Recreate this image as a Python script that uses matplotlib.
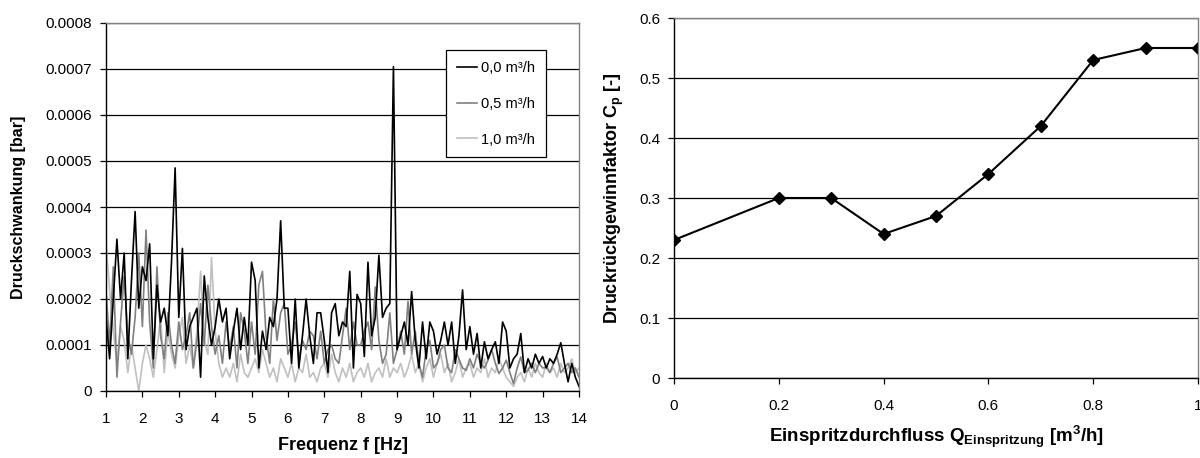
import numpy as np
import matplotlib
matplotlib.use('Agg')
import matplotlib.pyplot as plt

plt.rcParams['font.family'] = ['Liberation Sans', 'DejaVu Sans']
plt.rcParams['mathtext.fontset'] = 'custom'
plt.rcParams['mathtext.rm'] = 'Liberation Sans'
plt.rcParams['mathtext.bf'] = 'Liberation Sans:bold'

# left panel: pressure fluctuation spectrum, 0.1 Hz steps from 1 to 14 Hz
freq = np.linspace(1.0, 14.0, 131)

# amplitudes in units of 1e-4 bar
amp_00 = [
    1.6, 0.7, 2.0, 3.3, 2.0, 3.0, 0.7, 2.4, 3.9, 1.8,
    2.7, 2.4, 3.2, 0.7, 2.3, 1.5, 1.8, 1.2, 2.8, 4.85,
    1.6, 3.1, 0.9, 1.4, 1.6, 1.8, 0.3, 2.5, 1.6, 1.0,
    1.4, 2.0, 1.5, 1.8, 0.7, 1.3, 1.8, 0.9, 1.6, 1.0,
    2.8, 2.4, 0.5, 1.3, 0.9, 1.6, 1.4, 2.0, 3.7, 1.8,
    1.8, 0.6, 2.0, 0.5, 1.2, 2.0, 1.2, 0.6, 1.7, 1.7,
    1.1, 0.4, 1.7, 1.9, 1.2, 1.5, 1.4, 2.6, 0.5, 2.1,
    1.9, 0.75, 2.8, 1.2, 1.6, 2.95, 1.6, 1.8, 1.9, 7.05,
    0.9, 1.2, 1.5, 1.0, 2.16, 1.1, 0.5, 1.5, 0.7, 1.5,
    1.3, 0.8, 1.1, 1.5, 1.0, 1.5, 0.6, 1.2, 2.2, 0.9,
    1.4, 0.8, 1.25, 0.5, 1.07, 0.7, 0.9, 1.07, 0.6, 1.5,
    1.3, 0.5, 0.7, 0.8, 1.25, 0.4, 0.7, 0.5, 0.8, 0.6,
    0.75, 0.5, 0.7, 0.6, 0.8, 1.05, 0.6, 0.2, 0.6, 0.3,
    0.1]

amp_05 = [
    2.2, 1.0, 2.7, 0.3, 1.5, 2.5, 1.2, 0.8, 1.6, 3.0,
    1.4, 3.5, 1.5, 0.5, 2.7, 1.2, 0.7, 1.7, 1.0, 0.6,
    1.5, 0.9, 1.2, 1.7, 0.5, 1.1, 1.9, 1.0, 2.3, 1.4,
    0.8, 1.2, 0.6, 1.5, 0.9, 1.4, 0.5, 1.7, 1.3, 0.6,
    1.5, 0.8, 2.3, 2.6, 1.2, 0.6, 2.0, 1.1, 1.7, 1.9,
    0.8, 1.0, 1.5, 0.7, 1.1, 0.9, 1.3, 1.2, 0.7, 1.3,
    0.6, 0.9, 1.0, 0.7, 0.6, 1.2, 1.8, 0.9, 1.5, 1.0,
    1.0, 1.3, 1.5, 0.9, 2.26, 1.1, 0.6, 0.8, 1.7, 0.6,
    0.9, 1.3, 0.8, 1.95, 0.8, 1.3, 0.6, 0.3, 0.9, 1.1,
    0.5, 0.6, 0.9, 1.0, 0.5, 0.4, 0.9, 0.7, 0.5, 0.45,
    0.7, 0.5, 0.8, 0.6, 0.5, 0.67, 0.9, 0.6, 0.38, 0.5,
    0.67, 0.4, 0.16, 0.5, 0.74, 0.4, 0.45, 0.6, 0.4, 0.6,
    0.5, 0.52, 0.4, 0.6, 0.74, 0.4, 0.5, 0.6, 0.4, 0.5,
    0.3]

amp_10 = [
    3.2, 2.2, 1.3, 0.6, 1.4, 1.1, 0.4, 1.0, 0.5, 0.0,
    0.6, 1.0, 0.7, 0.3, 0.9, 1.6, 0.4, 1.3, 0.8, 0.5,
    1.2, 1.6, 0.6, 1.0, 0.5, 1.3, 2.6, 1.1, 0.8, 2.9,
    1.3, 0.6, 0.3, 0.5, 0.3, 0.6, 0.2, 0.8, 0.4, 0.3,
    0.5, 0.7, 0.4, 0.9, 0.6, 0.3, 0.5, 0.2, 0.7, 0.5,
    0.3, 0.6, 0.2, 0.5, 0.4, 0.8, 0.3, 0.4, 0.2, 0.5,
    0.6, 0.3, 0.8, 0.4, 0.2, 0.5, 0.3, 0.6, 0.2, 0.4,
    0.5, 0.3, 0.6, 0.2, 0.4, 0.5, 0.3, 0.7, 0.3, 0.5,
    0.4, 0.6, 0.3, 0.5, 0.8, 0.4, 0.6, 0.2, 0.5, 0.7,
    0.3, 0.6, 0.8, 0.4, 0.6, 0.2, 0.4, 0.7, 0.3, 0.5,
    0.6, 0.3, 0.5, 0.4, 0.7, 0.3, 0.5, 0.4, 0.7, 0.5,
    0.3, 0.2, 0.1, 0.3, 0.4, 0.2, 0.5, 0.3, 0.6, 0.4,
    0.3, 0.6, 0.4, 0.5, 0.3, 0.6, 0.4, 0.5, 0.7, 0.4,
    0.5]

# right panel: pressure recovery factor vs injection flow
q_inj = [0, 0.2, 0.3, 0.4, 0.5, 0.6, 0.7, 0.8, 0.9, 1.0]
cp = [0.23, 0.30, 0.30, 0.24, 0.27, 0.34, 0.42, 0.53, 0.55, 0.55]

fig = plt.figure(figsize=(12, 4.58), dpi=100)
ax1 = fig.add_axes([106/1200, 1 - 391/458, 473/1200, 368/458])
ax2 = fig.add_axes([674/1200, 1 - 378/458, 524/1200, 360/458])

scale = 1e-4
ax1.plot(freq, np.array(amp_10) * scale, color='#c0c0c0', lw=1.2, label='1,0 m³/h')
ax1.plot(freq, np.array(amp_05) * scale, color='#808080', lw=1.2, label='0,5 m³/h')
ax1.plot(freq, np.array(amp_00) * scale, color='black', lw=1.2, label='0,0 m³/h')

ax1.set_xlim(1, 14)
ax1.set_ylim(0, 0.0008)
ax1.set_xticks(range(1, 15))
yt = np.arange(0, 9) * 1e-4
ax1.set_yticks(yt)
ax1.set_yticklabels(['0'] + ['%.4f' % v for v in yt[1:]])
ax1.yaxis.grid(True, color='black', lw=0.9)
ax1.set_axisbelow(True)
ax1.set_xlabel('Frequenz f [Hz]', fontweight='bold', fontsize=13, labelpad=8)
ax1.set_ylabel('Druckschwankung [bar]', fontweight='bold', fontsize=11.5, labelpad=14)

h, l = ax1.get_legend_handles_labels()
leg = ax1.legend(h[::-1], l[::-1], loc='upper left', bbox_to_anchor=(0.718, 0.927),
                 fancybox=False, framealpha=1, edgecolor='black', fontsize=10.5,
                 handlelength=1.4, handletextpad=0.3, labelspacing=1.5,
                 borderpad=0.75, borderaxespad=0)
leg.get_frame().set_linewidth(0.9)

ax2.plot(q_inj, cp, color='black', lw=1.5, marker='D', markersize=6)
ax2.set_xlim(0, 1)
ax2.set_ylim(0, 0.6)
ax2.set_xticks([0, 0.2, 0.4, 0.6, 0.8, 1.0])
ax2.set_xticklabels(['0', '0.2', '0.4', '0.6', '0.8', '1'])
ax2.set_yticks(np.arange(0, 7) / 10)
ax2.set_yticklabels(['0', '0.1', '0.2', '0.3', '0.4', '0.5', '0.6'])
ax2.yaxis.grid(True, color='black', lw=0.9)
ax2.set_axisbelow(True)
ax2.set_xlabel(r'Einspritzdurchfluss $\mathbf{Q_{Einspritzung}}$ [m$\mathbf{^3}$/h]',
               fontweight='bold', fontsize=13.5, labelpad=8)
ax2.set_ylabel(r'Druckrückgewinnfaktor $\mathbf{C_p}$ [-]', fontweight='bold',
               fontsize=13, labelpad=9)

for ax in (ax1, ax2):
    ax.tick_params(direction='out', length=4, width=0.9, labelsize=11, pad=6)
    ax.tick_params(axis='x', pad=11)
    ax.spines['left'].set_color('black')
    ax.spines['bottom'].set_color('black')
    ax.spines['top'].set_color('#808080')
    ax.spines['right'].set_color('#808080')
    for s in ax.spines.values():
        s.set_linewidth(1.0)

fig.savefig('out.png', dpi=100)
